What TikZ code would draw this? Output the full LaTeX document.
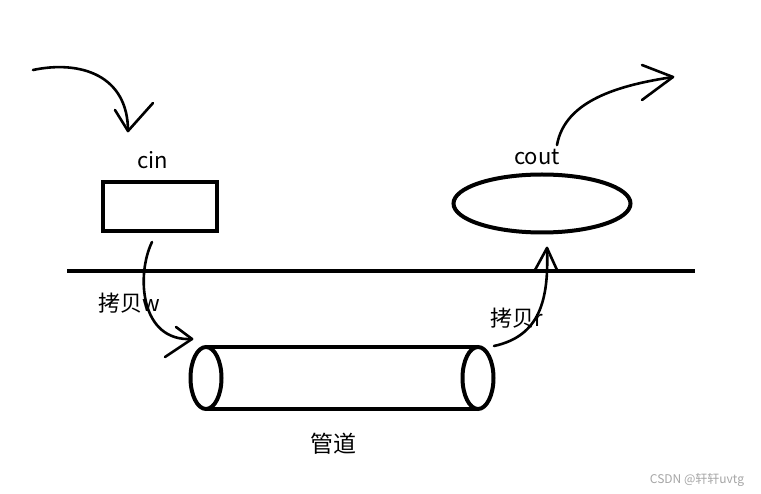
\documentclass[tikz,border=0pt]{standalone}
\usepackage{fontspec}
\setmainfont{Noto Sans CJK SC}
\usetikzlibrary{shapes.geometric}
\tikzset{
  thick line/.style={line width=4pt, black},
  hand/.style={line width=2.6pt, black, line cap=round, line join=round},
  lbl/.style={inner sep=0pt, font=\fontsize{22pt}{24pt}\selectfont},
}
\begin{document}
\begin{tikzpicture}[x=1pt,y=-1pt]
\fill[white] (0,0) rectangle (761,494);
\useasboundingbox (0,0) rectangle (761,494);

% cin box
\node[draw, thick line, rectangle, minimum width=114pt, minimum height=49pt, inner sep=0pt] (inbox) at (159.5,206.5) {};
\node[lbl] (cinlbl) at (153,160) {cin};

% cout ellipse
\node[draw, thick line, ellipse, minimum width=177pt, minimum height=58pt, inner sep=0pt] (outell) at (542,203.5) {};
\node[lbl] (coutlbl) at (537,157) {cout};

% horizontal boundary line
\coordinate (hl) at (67,271);
\coordinate (hr) at (695,271);
\draw[thick line] (hl) -- (hr);

% pipe (cylinder)
\coordinate (ltop) at (206,347);
\coordinate (lbot) at (206,409);
\coordinate (rtop) at (478,347);
\coordinate (rbot) at (478,409);
\draw[thick line] (ltop) -- (rtop);
\draw[thick line] (lbot) -- (rbot);
\draw[thick line, fill=white] (206,378) ellipse [x radius=15.5, y radius=31];
\draw[thick line, fill=white] (478,378) ellipse [x radius=15.5, y radius=31];
\node[lbl, font=\fontsize{23pt}{25pt}\selectfont] (pipelbl) at (333,444) {管道};

% top-left incoming arrow
\coordinate (a1s) at (33,70);
\coordinate (a1t) at (128,131);
\draw[hand] (a1s) .. controls (80,60) and (128,75) .. (a1t);
\draw[hand] (115,110) -- (a1t) -- (153,103);

% left copy arrow (write)
\coordinate (a2s) at (152,242);
\coordinate (a2t) at (192,339);
\draw[hand] (a2s) .. controls (136,275) and (140,342) .. (a2t);
\draw[hand] (176,327) -- (a2t) -- (165,357);
\node[lbl] (wlbl) at (129,303) {拷贝w};

% right copy arrow (read)
\coordinate (a3s) at (494,346);
\coordinate (a3t) at (547,248);
\draw[hand] (a3s) .. controls (540,336) and (549,300) .. (a3t);
\draw[hand] (535,270) -- (a3t) -- (557,270);
\node[lbl] (rlbl) at (517,318) {拷贝r};

% top-right outgoing arrow
\coordinate (a4s) at (557,145);
\coordinate (a4t) at (673,77);
\draw[hand] (a4s) .. controls (565,100) and (620,85) .. (a4t);
\draw[hand] (642,65) -- (a4t) -- (642,100);

% watermark
\node[inner sep=0pt, text=black!35, font=\fontsize{12pt}{14pt}\selectfont] (wm) at (697,480) {CSDN @轩轩uvtg};
\end{tikzpicture}
\end{document}
